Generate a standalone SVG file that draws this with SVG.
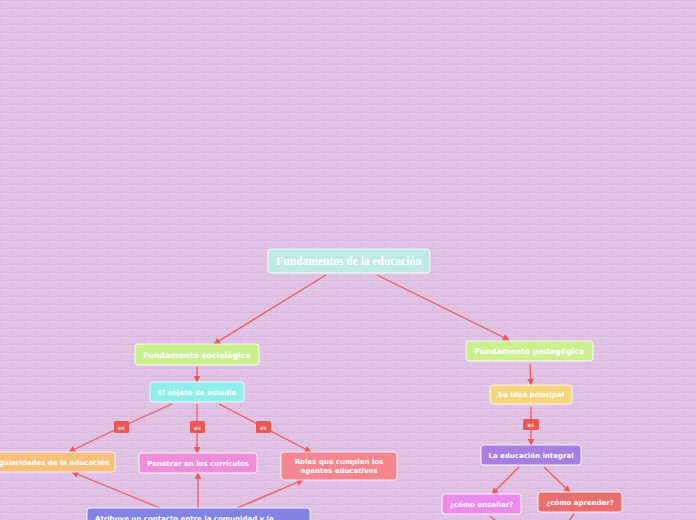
<svg xmlns="http://www.w3.org/2000/svg" width="696" height="520" viewBox="0 0 696 520">
<defs>
<pattern id="brick" width="24" height="16" patternUnits="userSpaceOnUse">
<rect width="24" height="16" fill="#E0C2E5"/>
<path d="M0 0.5H24M0 8.5H24M0.5 0V8M12.5 8V16" stroke="#D9BADE" stroke-width="1" fill="none"/>
<path d="M0 1.5H24M0 9.5H24" stroke="#E4C8E8" stroke-width="1" fill="none"/>
</pattern>
<marker id="ah" viewBox="0 0 10 10" refX="9" refY="5" markerWidth="7" markerHeight="7" orient="auto" markerUnits="userSpaceOnUse">
<path d="M0 0L10 5L0 10Z" fill="#EE5858"/>
</marker>
<style>
.box{stroke:#FFFFFF;stroke-opacity:0.85;stroke-width:1}
.t{font-family:"DejaVu Sans",Verdana,sans-serif;font-weight:bold;fill:#FFFFFF;text-anchor:middle}
.t1{font-size:7.9px}
.t2{font-size:7px}
.root{font-family:"Liberation Serif","Times New Roman",serif;font-weight:bold;font-size:11.5px;fill:#FFFFFF;text-anchor:middle}
.c{stroke:#EE5858;stroke-width:1.3;fill:none}
.es{fill:#E95757}
.est{font-family:"DejaVu Sans",sans-serif;font-size:6px;fill:#FFFFFF;text-anchor:middle}
</style>
</defs>
<rect width="696" height="520" fill="url(#brick)"/>

<g id="connectors">
<line class="c" x1="326" y1="275" x2="214" y2="344" marker-end="url(#ah)"/>
<line class="c" x1="377" y1="275" x2="509" y2="340" marker-end="url(#ah)"/>
<line class="c" x1="197" y1="367" x2="197" y2="382" marker-end="url(#ah)"/>
<polyline class="c" points="172,404 121,427 69,452" marker-end="url(#ah)"/>
<polyline class="c" points="197,404 197,427 197,453" marker-end="url(#ah)"/>
<polyline class="c" points="219,404 263,427 311,452" marker-end="url(#ah)"/>
<line class="c" x1="160" y1="508" x2="72" y2="472" marker-end="url(#ah)"/>
<line class="c" x1="198" y1="508" x2="198" y2="473" marker-end="url(#ah)"/>
<line class="c" x1="237" y1="508" x2="303" y2="480" marker-end="url(#ah)"/>
<line class="c" x1="530" y1="364" x2="531" y2="385" marker-end="url(#ah)"/>
<polyline class="c" points="531,407 531,425 531,445" marker-end="url(#ah)"/>
<line class="c" x1="519" y1="467" x2="492" y2="494" marker-end="url(#ah)"/>
<line class="c" x1="544" y1="467" x2="570" y2="492" marker-end="url(#ah)"/>
<line class="c" x1="490" y1="516" x2="496" y2="521"/>
<line class="c" x1="574" y1="514" x2="569" y2="521"/>
<g id="es-labels">
<rect class="es" x="114" y="421" width="15" height="12" rx="1.5"/>
<text class="est" x="121.5" y="429.5">es</text>
<rect class="es" x="190" y="421" width="15" height="12" rx="1.5"/>
<text class="est" x="197.5" y="429.5">es</text>
<rect class="es" x="256" y="421" width="15" height="12" rx="1.5"/>
<text class="est" x="263.5" y="429.5">es</text>
<rect class="es" x="523" y="419" width="16" height="11" rx="1.5"/>
<text class="est" x="531" y="427">es</text>
</g>
</g>

<g id="root">
<rect class="box" x="268" y="249" width="162" height="24" rx="3" fill="#BFE9E6"/>
<text class="root" x="349" y="265">Fundamentos de la educación</text>
</g>
<g id="fund-socio">
<rect class="box" x="135" y="344" width="124" height="21" rx="3" fill="#CBEF8F"/>
<text class="t t1" x="197" y="357.5">Fundamento sociológico</text>
</g>
<g id="objeto">
<rect class="box" x="150" y="382" width="94" height="20" rx="3" fill="#8DEEEA"/>
<text class="t t2" x="197" y="394.5">El objeto de estudio</text>
</g>
<g id="regularidades">
<rect class="box" x="-18" y="452" width="133" height="20" rx="3" fill="#F7C07E"/>
<text class="t t2" x="49" y="464.5">Regularidades de la educación</text>
</g>
<g id="penetrar">
<rect class="box" x="139" y="453" width="118" height="20" rx="3" fill="#EE8ED8"/>
<text class="t t2" x="198" y="465.5">Penetrar en los currículos</text>
</g>
<g id="roles">
<rect class="box" x="281" y="452" width="116" height="28" rx="3" fill="#F4868F"/>
<text class="t t2" x="339" y="464">Roles que cumplen los</text>
<text class="t t2" x="339" y="472.5">agentes educativos</text>
</g>
<g id="atribuye">
<rect class="box" x="87" y="508" width="223" height="24" rx="3" fill="#8283E3"/>
<text class="t t2" x="95" y="521" style="text-anchor:start">Atribuye un contacto entre la comunidad y la</text>
</g>
<g id="fund-peda">
<rect class="box" x="466" y="341" width="127" height="20" rx="3" fill="#CBEF8F"/>
<text class="t t1" x="529.5" y="354">Fundamento pedagógico</text>
</g>
<g id="idea">
<rect class="box" x="490" y="385" width="82" height="19" rx="3" fill="#F7D57A"/>
<text class="t t2" x="531" y="397">Su idea principal</text>
</g>
<g id="integral">
<rect class="box" x="481" y="445" width="100" height="20" rx="3" fill="#A77FE2"/>
<text class="t t2" x="531" y="457.5">La educación integral</text>
</g>
<g id="ensenar">
<rect class="box" x="442" y="494" width="79" height="20" rx="3" fill="#EC8BEC"/>
<text class="t t2" x="481.5" y="506.5">¿cómo enseñar?</text>
</g>
<g id="aprender">
<rect class="box" x="538" y="492" width="84" height="20" rx="3" fill="#EA6E6E"/>
<text class="t t2" x="580" y="504.5">¿cómo aprender?</text>
</g>
</svg>
